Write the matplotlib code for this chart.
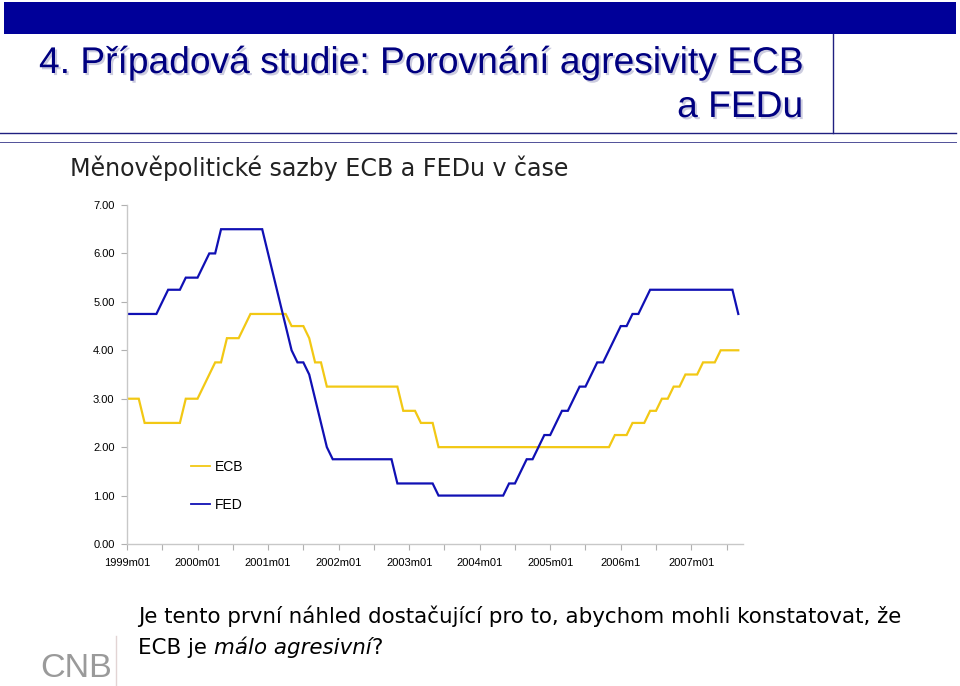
import matplotlib
matplotlib.use("Agg")
import matplotlib.pyplot as plt
import matplotlib.patheffects as pe
from matplotlib.patches import Rectangle
from matplotlib.lines import Line2D
import numpy as np

# ---------------- data (monthly, 1999m01 .. 2007m09) ----------------
ecb = [3.00, 3.00, 3.00, 2.50, 2.50, 2.50, 2.50, 2.50, 2.50, 2.50,
       3.00, 3.00, 3.00, 3.25, 3.50, 3.75, 3.75, 4.25, 4.25, 4.25,
       4.50, 4.75, 4.75, 4.75, 4.75, 4.75, 4.75, 4.75, 4.50, 4.50,
       4.50, 4.25, 3.75, 3.75, 3.25, 3.25, 3.25, 3.25, 3.25, 3.25,
       3.25, 3.25, 3.25, 3.25, 3.25, 3.25, 3.25, 2.75, 2.75, 2.75,
       2.50, 2.50, 2.50, 2.00, 2.00, 2.00, 2.00, 2.00, 2.00, 2.00,
       2.00, 2.00, 2.00, 2.00, 2.00, 2.00, 2.00, 2.00, 2.00, 2.00,
       2.00, 2.00, 2.00, 2.00, 2.00, 2.00, 2.00, 2.00, 2.00, 2.00,
       2.00, 2.00, 2.00, 2.25, 2.25, 2.25, 2.50, 2.50, 2.50, 2.75,
       2.75, 3.00, 3.00, 3.25, 3.25, 3.50, 3.50, 3.50, 3.75, 3.75,
       3.75, 4.00, 4.00, 4.00, 4.00]
fed = [4.75, 4.75, 4.75, 4.75, 4.75, 4.75, 5.00, 5.25, 5.25, 5.25,
       5.50, 5.50, 5.50, 5.75, 6.00, 6.00, 6.50, 6.50, 6.50, 6.50,
       6.50, 6.50, 6.50, 6.50, 6.00, 5.50, 5.00, 4.50, 4.00, 3.75,
       3.75, 3.50, 3.00, 2.50, 2.00, 1.75, 1.75, 1.75, 1.75, 1.75,
       1.75, 1.75, 1.75, 1.75, 1.75, 1.75, 1.25, 1.25, 1.25, 1.25,
       1.25, 1.25, 1.25, 1.00, 1.00, 1.00, 1.00, 1.00, 1.00, 1.00,
       1.00, 1.00, 1.00, 1.00, 1.00, 1.25, 1.25, 1.50, 1.75, 1.75,
       2.00, 2.25, 2.25, 2.50, 2.75, 2.75, 3.00, 3.25, 3.25, 3.50,
       3.75, 3.75, 4.00, 4.25, 4.50, 4.50, 4.75, 4.75, 5.00, 5.25,
       5.25, 5.25, 5.25, 5.25, 5.25, 5.25, 5.25, 5.25, 5.25, 5.25,
       5.25, 5.25, 5.25, 5.25, 4.75]
series_names = ["ECB", "FED"]
x_labels = ["1999m01", "2000m01", "2001m01", "2002m01", "2003m01",
            "2004m01", "2005m01", "2006m1", "2007m01"]
y_ticks = [0, 1, 2, 3, 4, 5, 6, 7]

title_l1 = "4. Případová studie: Porovnání agresivity ECB"
title_l2 = "a FEDu"
subtitle = "Měnověpolitické sazby ECB a FEDu v čase"
q_line1 = "Je tento první náhled dostačující pro to, abychom mohli konstatovat, že"
q_line2a = "ECB je "
q_line2b = "málo agresivní"
q_line2c = "?"
logo_text = "CNB"

# ---------------- figure ----------------
W, H = 960, 686
fig = plt.figure(figsize=(W / 100, H / 100), dpi=100)
fig.patch.set_facecolor("white")


def fx(x):
    return x / W


def fy(y):
    return 1 - y / H


NAVY = "#000099"
BLUE = "#1010B4"
YELLOW = "#F2C814"

# header bar and lines
fig.add_artist(Rectangle((fx(4), fy(34)), fx(952), 32 / H, transform=fig.transFigure,
                         facecolor=NAVY, edgecolor="none"))
fig.add_artist(Line2D([fx(0), fx(956)], [fy(133), fy(133)], transform=fig.transFigure,
                      color="#202080", lw=1.0))
fig.add_artist(Line2D([fx(0), fx(956)], [fy(142), fy(142)], transform=fig.transFigure,
                      color="#505098", lw=0.7))
fig.add_artist(Line2D([fx(833), fx(833)], [fy(34), fy(133)], transform=fig.transFigure,
                      color="#202080", lw=1.0))
fig.add_artist(Line2D([fx(116), fx(116)], [fy(636), fy(686)], transform=fig.transFigure,
                      color="#e2d4d4", lw=1.0))

renderer = fig.canvas.get_renderer()


def fit(t, target_w):
    w = t.get_window_extent(renderer).width
    t.set_fontsize(t.get_fontsize() * target_w / w)
    return t


shadow = [pe.SimplePatchShadow(offset=(1.5, -1.5), shadow_rgbFace="#9a9ac0", alpha=0.5),
          pe.Normal()]
t1 = fig.text(fx(803), fy(73), title_l1, ha="right", va="baseline",
              family="Liberation Sans", fontsize=22, color="#000080", path_effects=shadow)
fit(t1, 803 - 41)
t2 = fig.text(fx(803), fy(117), title_l2, ha="right", va="baseline",
              family="Liberation Sans", fontsize=t1.get_fontsize(), color="#000080",
              path_effects=shadow)

st = fig.text(fx(70), fy(176), subtitle, ha="left", va="baseline",
              family="DejaVu Sans", fontsize=14, color="#222222")
fit(st, 572 - 70)

q1 = fig.text(fx(138), fy(623), q_line1, ha="left", va="baseline",
              family="DejaVu Sans", fontsize=14, color="black")
fit(q1, 903 - 138)
qfs = q1.get_fontsize()
qa = fig.text(fx(138), fy(654), q_line2a, ha="left", va="baseline",
              family="DejaVu Sans", fontsize=qfs, color="black")
xa = qa.get_window_extent(renderer).x1
qb = fig.text(xa / W, fy(654), q_line2b, ha="left", va="baseline",
              family="DejaVu Sans", fontsize=qfs, style="italic", color="black")
xb = qb.get_window_extent(renderer).x1
fig.text(xb / W, fy(654), q_line2c, ha="left", va="baseline",
         family="DejaVu Sans", fontsize=qfs, color="black")

lg = fig.text(fx(40), fy(677), logo_text, ha="left", va="baseline",
              family="Liberation Sans", fontsize=30, color="#9a9a9a")
fit(lg, 112 - 40)

# ---------------- chart ----------------
ax = fig.add_axes([fx(127), fy(544), (743 - 127) / W, (544 - 205) / H])
x = np.arange(len(ecb))
ax.plot(x, ecb, color=YELLOW, lw=1.6, label=series_names[0], solid_joinstyle="miter")
ax.plot(x, fed, color=BLUE, lw=1.6, label=series_names[1], solid_joinstyle="miter")

ax.set_xlim(0, 104.8)
ax.set_ylim(0, 7)
ax.set_yticks(y_ticks)
ax.set_yticklabels([f"{v:.2f}" for v in y_ticks])
major = np.arange(0, 104, 6)
ax.set_xticks(major)
ax.set_xticklabels([x_labels[i // 2] if i % 2 == 0 else "" for i in range(len(major))])

for s in ["top", "right"]:
    ax.spines[s].set_visible(False)
for s in ["left", "bottom"]:
    ax.spines[s].set_color("#c8c8c8")
    ax.spines[s].set_linewidth(1.0)
ax.tick_params(axis="both", colors="#b0b0b0", length=4, width=0.8,
               labelcolor="black", labelsize=8)
ax.tick_params(axis="y", pad=5)
ax.tick_params(axis="x", pad=6)
for lbl in ax.get_xticklabels() + ax.get_yticklabels():
    lbl.set_family("Liberation Sans")

leg = ax.legend(loc="center left", bbox_to_anchor=(fx(191), fy(486)),
                bbox_transform=fig.transFigure, frameon=False, borderpad=0,
                borderaxespad=0, handlelength=1.4, handletextpad=0.3,
                labelspacing=1.75, prop={"family": "Liberation Sans", "size": 10})
for line in leg.get_lines():
    line.set_linewidth(1.3)

fig.savefig("out.png", dpi=100, facecolor="white")
